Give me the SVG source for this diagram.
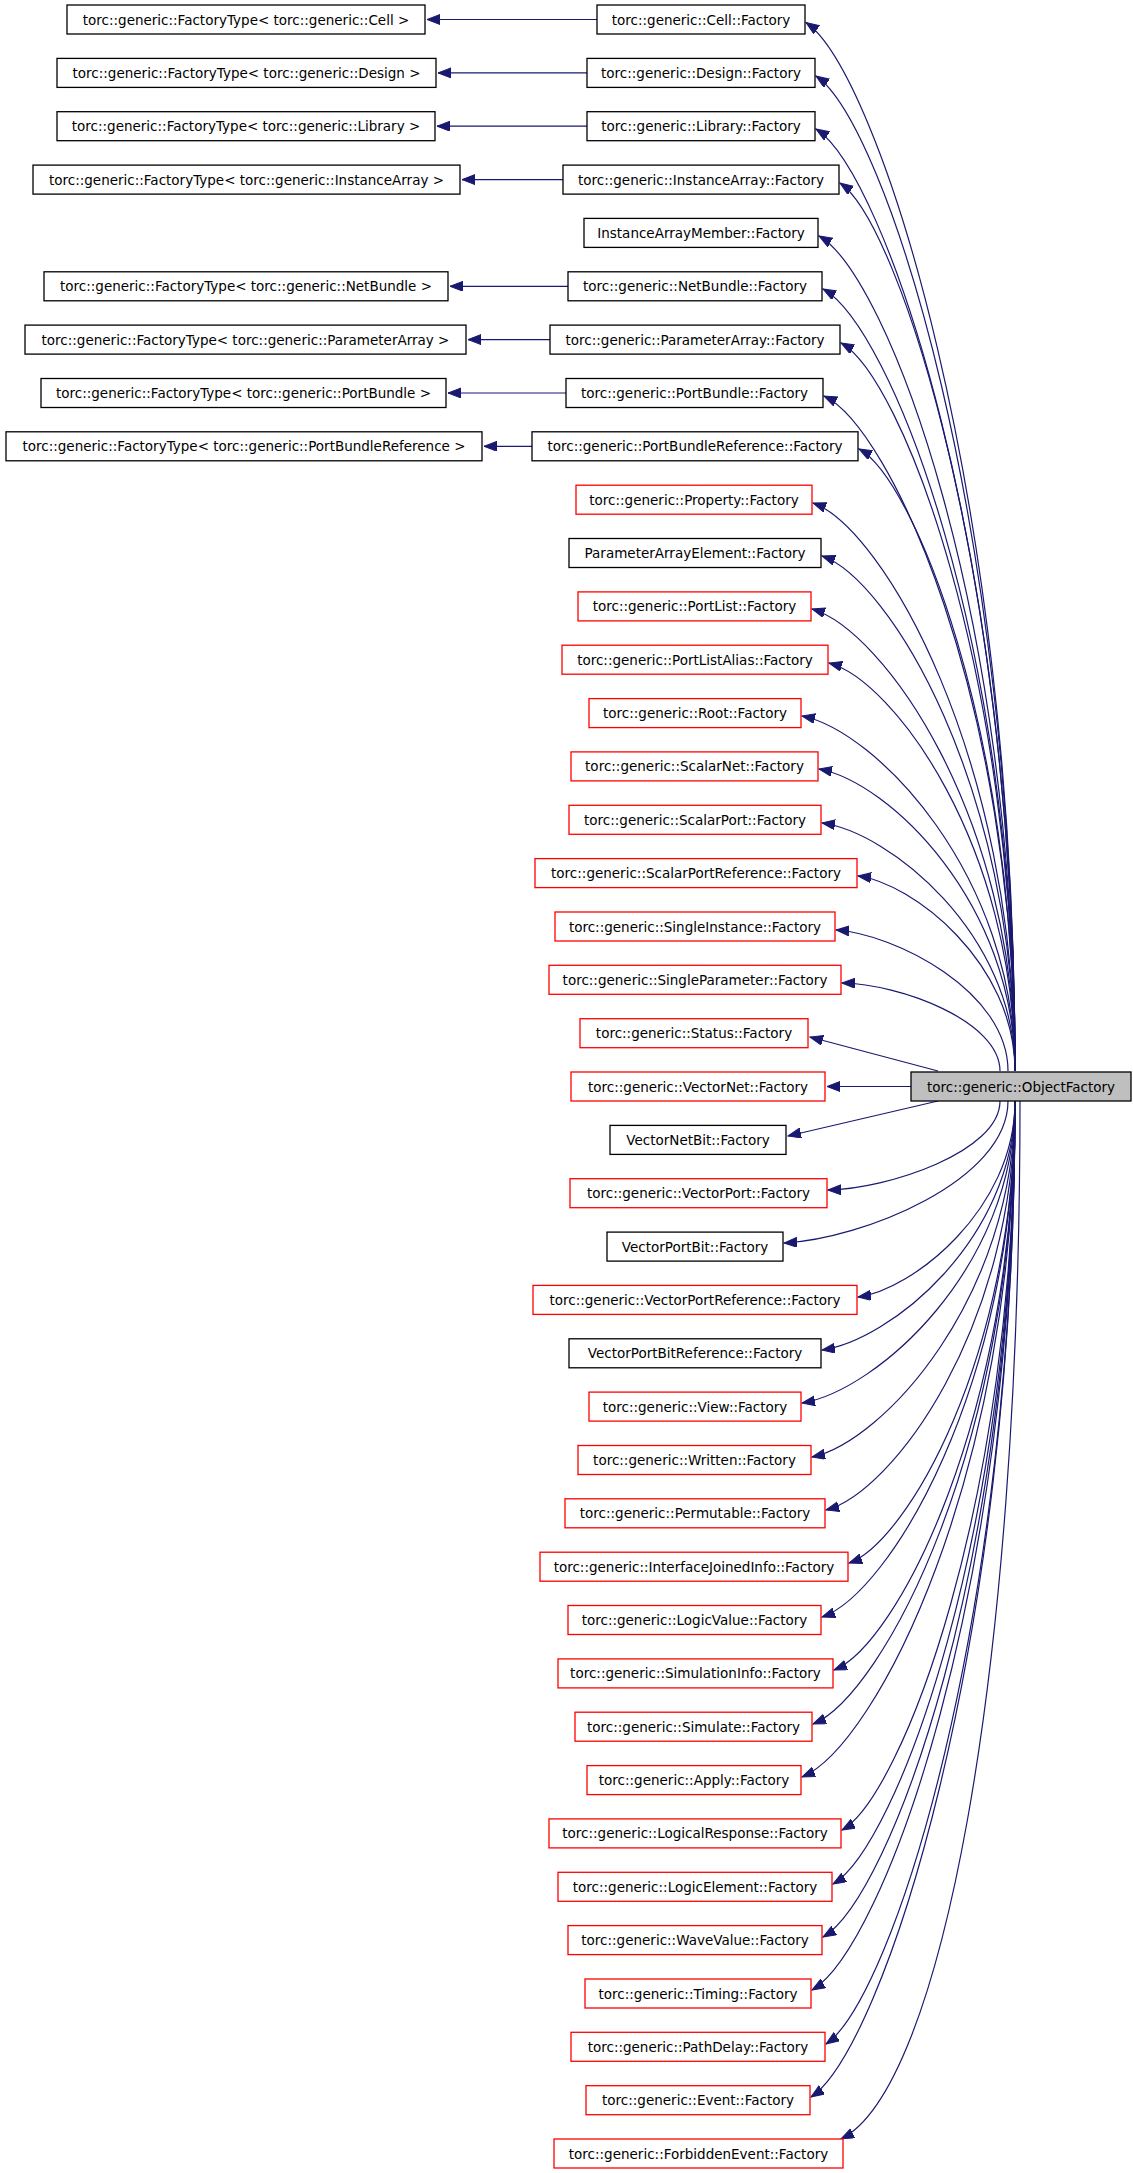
<svg xmlns="http://www.w3.org/2000/svg" width="1133" height="2173" viewBox="0 0 1133 2173">
<style>
rect{fill:#fff;stroke:#000;stroke-width:1.3}
.r rect{stroke:#f00}
.m rect{fill:#bfbfbf}
text{font-family:"DejaVu Sans",sans-serif;font-size:13.5px;text-anchor:middle;dominant-baseline:central;fill:#000}
#edges path{fill:none;stroke:#191970;stroke-width:1.2;marker-end:url(#a)}
</style>
<defs><marker id="a" markerUnits="userSpaceOnUse" markerWidth="14" markerHeight="12" refX="13" refY="5" orient="auto"><path d="M0,0 L13,5 L0,10 Z" fill="#191970" stroke="#191970"/></marker></defs>
<g id="edges">
<path d="M597,19.5 L427,19.5"/><path d="M587,72.9 L438,72.9"/><path d="M587,126.2 L437,126.2"/><path d="M563,179.6 L462,179.6"/><path d="M568,286.3 L450,286.3"/><path d="M550,339.6 L468,339.6"/><path d="M566,393 L448,393"/><path d="M532,446.3 L484,446.3"/>
<path d="M1015,1071 C1015,493 878,72 806,22.5"/>
<path d="M1015,1071 C1015,522 885,123 816,76"/>
<path d="M1015,1071 C1015,551 885,173 816,129"/>
<path d="M1015,1071 C1015,581 900,224 840,183"/>
<path d="M1015,1071 C1015,610 887,275 819,236"/>
<path d="M1015,1071 C1015,639 890,326 823,289"/>
<path d="M1015,1071 C1015,669 901,376 841,343"/>
<path d="M1015,1071 C1015,698 890,427 824,396"/>
<path d="M1015,1071 C1015,727 913,478 859,449"/>
<path d="M1015,1071 C1015,757 883,528 813,503"/>
<path d="M1015,1071 C1015,786 889,579 822,556"/>
<path d="M1015,1071 C1015,815 883,630 812,609"/>
<path d="M1015,1071 C1015,845 893,680 829,663"/>
<path d="M1015,1071 C1015,874 876,731 802,716"/>
<path d="M1015,1071 C1015,903 889,782 819,769"/>
<path d="M1015,1071 C1015,933 889,832 822,823"/>
<path d="M1015,1071 C1015,962 912,883 858,876"/>
<path d="M1008,1071 C1008,991 895,934 836,930"/>
<path d="M1000,1071 C1000,1021 900,984 842,983"/>
<path d="M938,1071 L810,1037"/>
<path d="M911,1086.5 L827,1086.5"/>
<path d="M938,1101 L788,1136"/>
<path d="M1000,1101 C1000,1152 887,1189 828,1190"/>
<path d="M1008,1101 C1008,1181 862,1239 784,1243"/>
<path d="M1015,1101 C1015,1210 912,1290 858,1297"/>
<path d="M1015,1101 C1015,1240 889,1341 822,1350"/>
<path d="M1015,1101 C1015,1269 876,1391 802,1403"/>
<path d="M1015,1101 C1015,1298 883,1442 812,1457"/>
<path d="M1015,1101 C1015,1328 892,1493 826,1510"/>
<path d="M1015,1101 C1015,1357 906,1543 849,1563"/>
<path d="M1015,1101 C1015,1386 889,1594 822,1617"/>
<path d="M1015,1101 C1015,1416 897,1645 834,1670"/>
<path d="M1015,1101 C1015,1445 883,1695 813,1724"/>
<path d="M1015,1101 C1015,1474 876,1746 802,1777"/>
<path d="M1015,1101 C1015,1504 901,1797 842,1830"/>
<path d="M1015,1101 C1015,1533 896,1847 833,1884"/>
<path d="M1015,1101 C1015,1562 890,1898 823,1937"/>
<path d="M1015,1101 C1015,1592 883,1949 812,1990"/>
<path d="M1015,1101 C1015,1621 892,1999 826,2044"/>
<path d="M1015,1101 C1015,1650 882,2050 811,2097"/>
<path d="M1020,1101 C1020,1680 940,2090 841,2139"/>
</g>
<g id="ft_cell"><rect x="67" y="5" width="358" height="29"/><text x="246" y="19.5">torc::generic::FactoryType&lt; torc::generic::Cell &gt;</text></g>
<g id="ft_design"><rect x="57" y="58.4" width="379" height="29"/><text x="246.5" y="72.9">torc::generic::FactoryType&lt; torc::generic::Design &gt;</text></g>
<g id="ft_library"><rect x="57" y="111.7" width="378" height="29"/><text x="246" y="126.2">torc::generic::FactoryType&lt; torc::generic::Library &gt;</text></g>
<g id="ft_instancearray"><rect x="33" y="165.1" width="427" height="29"/><text x="246.5" y="179.6">torc::generic::FactoryType&lt; torc::generic::InstanceArray &gt;</text></g>
<g id="ft_netbundle"><rect x="44" y="271.8" width="404" height="29"/><text x="246" y="286.3">torc::generic::FactoryType&lt; torc::generic::NetBundle &gt;</text></g>
<g id="ft_parameterarray"><rect x="25" y="325.1" width="441" height="29"/><text x="245.5" y="339.6">torc::generic::FactoryType&lt; torc::generic::ParameterArray &gt;</text></g>
<g id="ft_portbundle"><rect x="41" y="378.5" width="405" height="29"/><text x="243.5" y="393">torc::generic::FactoryType&lt; torc::generic::PortBundle &gt;</text></g>
<g id="ft_portbundleref"><rect x="6" y="431.8" width="476" height="29"/><text x="244" y="446.3">torc::generic::FactoryType&lt; torc::generic::PortBundleReference &gt;</text></g>
<g id="n0"><rect x="597" y="5" width="208" height="29"/><text x="701" y="19.5">torc::generic::Cell::Factory</text></g>
<g id="n1"><rect x="587" y="58.4" width="228" height="29"/><text x="701" y="72.9">torc::generic::Design::Factory</text></g>
<g id="n2"><rect x="587" y="111.7" width="228" height="29"/><text x="701" y="126.2">torc::generic::Library::Factory</text></g>
<g id="n3"><rect x="563" y="165.1" width="276" height="29"/><text x="701" y="179.6">torc::generic::InstanceArray::Factory</text></g>
<g id="n4"><rect x="584" y="218.4" width="234" height="29"/><text x="701" y="232.9">InstanceArrayMember::Factory</text></g>
<g id="n5"><rect x="568" y="271.8" width="254" height="29"/><text x="695" y="286.3">torc::generic::NetBundle::Factory</text></g>
<g id="n6"><rect x="550" y="325.1" width="290" height="29"/><text x="695" y="339.6">torc::generic::ParameterArray::Factory</text></g>
<g id="n7"><rect x="566" y="378.5" width="257" height="29"/><text x="694.5" y="393">torc::generic::PortBundle::Factory</text></g>
<g id="n8"><rect x="532" y="431.8" width="326" height="29"/><text x="695" y="446.3">torc::generic::PortBundleReference::Factory</text></g>
<g id="n9" class="r"><rect x="576" y="485.2" width="236" height="29"/><text x="694" y="499.7">torc::generic::Property::Factory</text></g>
<g id="n10"><rect x="569" y="538.5" width="252" height="29"/><text x="695" y="553">ParameterArrayElement::Factory</text></g>
<g id="n11" class="r"><rect x="578" y="591.9" width="233" height="29"/><text x="694.5" y="606.4">torc::generic::PortList::Factory</text></g>
<g id="n12" class="r"><rect x="562" y="645.2" width="266" height="29"/><text x="695" y="659.7">torc::generic::PortListAlias::Factory</text></g>
<g id="n13" class="r"><rect x="589" y="698.6" width="212" height="29"/><text x="695" y="713.1">torc::generic::Root::Factory</text></g>
<g id="n14" class="r"><rect x="571" y="751.9" width="247" height="29"/><text x="694.5" y="766.4">torc::generic::ScalarNet::Factory</text></g>
<g id="n15" class="r"><rect x="569" y="805.3" width="252" height="29"/><text x="695" y="819.8">torc::generic::ScalarPort::Factory</text></g>
<g id="n16" class="r"><rect x="535" y="858.6" width="322" height="29"/><text x="696" y="873.1">torc::generic::ScalarPortReference::Factory</text></g>
<g id="n17" class="r"><rect x="555" y="912" width="280" height="29"/><text x="695" y="926.5">torc::generic::SingleInstance::Factory</text></g>
<g id="n18" class="r"><rect x="549" y="965.3" width="292" height="29"/><text x="695" y="979.8">torc::generic::SingleParameter::Factory</text></g>
<g id="n19" class="r"><rect x="580" y="1018.7" width="228" height="29"/><text x="694" y="1033.2">torc::generic::Status::Factory</text></g>
<g id="n20" class="r"><rect x="571" y="1072" width="254" height="29"/><text x="698" y="1086.5">torc::generic::VectorNet::Factory</text></g>
<g id="objfactory" class="m"><rect x="911" y="1072" width="220" height="29"/><text x="1021" y="1086.5">torc::generic::ObjectFactory</text></g>
<g id="n21"><rect x="610" y="1125.4" width="176" height="29"/><text x="698" y="1139.9">VectorNetBit::Factory</text></g>
<g id="n22" class="r"><rect x="570" y="1178.7" width="257" height="29"/><text x="698.5" y="1193.2">torc::generic::VectorPort::Factory</text></g>
<g id="n23"><rect x="607" y="1232.1" width="176" height="29"/><text x="695" y="1246.6">VectorPortBit::Factory</text></g>
<g id="n24" class="r"><rect x="533" y="1285.4" width="324" height="29"/><text x="695" y="1299.9">torc::generic::VectorPortReference::Factory</text></g>
<g id="n25"><rect x="569" y="1338.8" width="252" height="29"/><text x="695" y="1353.3">VectorPortBitReference::Factory</text></g>
<g id="n26" class="r"><rect x="589" y="1392.1" width="212" height="29"/><text x="695" y="1406.6">torc::generic::View::Factory</text></g>
<g id="n27" class="r"><rect x="578" y="1445.5" width="233" height="29"/><text x="694.5" y="1460">torc::generic::Written::Factory</text></g>
<g id="n28" class="r"><rect x="565" y="1498.8" width="260" height="29"/><text x="695" y="1513.3">torc::generic::Permutable::Factory</text></g>
<g id="n29" class="r"><rect x="540" y="1552.2" width="308" height="29"/><text x="694" y="1566.7">torc::generic::InterfaceJoinedInfo::Factory</text></g>
<g id="n30" class="r"><rect x="568" y="1605.5" width="253" height="29"/><text x="694.5" y="1620">torc::generic::LogicValue::Factory</text></g>
<g id="n31" class="r"><rect x="558" y="1658.9" width="275" height="29"/><text x="695.5" y="1673.4">torc::generic::SimulationInfo::Factory</text></g>
<g id="n32" class="r"><rect x="575" y="1712.2" width="237" height="29"/><text x="693.5" y="1726.7">torc::generic::Simulate::Factory</text></g>
<g id="n33" class="r"><rect x="587" y="1765.6" width="214" height="29"/><text x="694" y="1780.1">torc::generic::Apply::Factory</text></g>
<g id="n34" class="r"><rect x="549" y="1818.9" width="292" height="29"/><text x="695" y="1833.4">torc::generic::LogicalResponse::Factory</text></g>
<g id="n35" class="r"><rect x="558" y="1872.3" width="274" height="29"/><text x="695" y="1886.8">torc::generic::LogicElement::Factory</text></g>
<g id="n36" class="r"><rect x="568" y="1925.6" width="254" height="29"/><text x="695" y="1940.1">torc::generic::WaveValue::Factory</text></g>
<g id="n37" class="r"><rect x="585" y="1979" width="226" height="29"/><text x="698" y="1993.5">torc::generic::Timing::Factory</text></g>
<g id="n38" class="r"><rect x="571" y="2032.3" width="254" height="29"/><text x="698" y="2046.8">torc::generic::PathDelay::Factory</text></g>
<g id="n39" class="r"><rect x="586" y="2085.7" width="224" height="29"/><text x="698" y="2100.2">torc::generic::Event::Factory</text></g>
<g id="n40" class="r"><rect x="554" y="2139" width="289" height="29"/><text x="698.5" y="2153.5">torc::generic::ForbiddenEvent::Factory</text></g>
</svg>
